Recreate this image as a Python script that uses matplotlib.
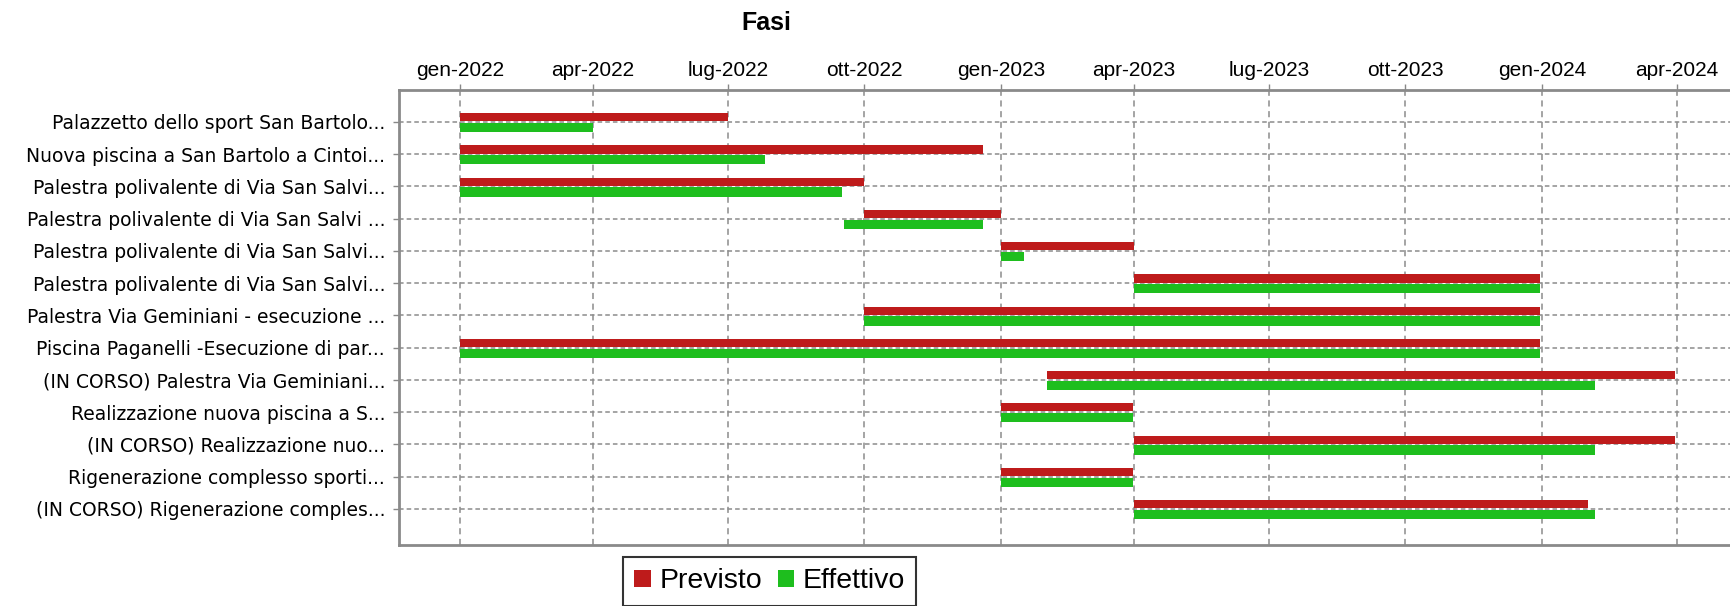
import matplotlib
matplotlib.use("Agg")
import matplotlib.pyplot as plt
import matplotlib.dates as mdates
from matplotlib.patches import Patch
import numpy as np
import pandas as pd

# ---------------- data ----------------
categories = [
    "Palazzetto dello sport San Bartolo...",
    "Nuova piscina a San Bartolo a Cintoi...",
    "Palestra polivalente di Via San Salvi...",
    "Palestra polivalente di Via San Salvi ...",
    "Palestra polivalente di Via San Salvi...",
    "Palestra polivalente di Via San Salvi...",
    "Palestra Via Geminiani - esecuzione ...",
    "Piscina Paganelli -Esecuzione di par...",
    "(IN CORSO) Palestra Via Geminiani...",
    "Realizzazione nuova piscina a S...",
    "(IN CORSO) Realizzazione nuo...",
    "Rigenerazione complesso sporti...",
    "(IN CORSO) Rigenerazione comples...",
]

previsto_start = ["2022-01-01", "2022-01-01", "2022-01-01", "2022-10-01", "2023-01-01",
                  "2023-04-01", "2022-10-01", "2022-01-01", "2023-02-01", "2023-01-01",
                  "2023-04-01", "2023-01-01", "2023-04-01"]
previsto_end = ["2022-07-01", "2022-12-20", "2022-10-01", "2023-01-01", "2023-04-01",
                "2023-12-31", "2023-12-31", "2023-12-31", "2024-03-31", "2023-03-31",
                "2024-03-31", "2023-03-31", "2024-02-01"]

effettivo_start = ["2022-01-01", "2022-01-01", "2022-01-01", "2022-09-17", "2023-01-01",
                   "2023-04-01", "2022-10-01", "2022-01-01", "2023-02-01", "2023-01-01",
                   "2023-04-01", "2023-01-01", "2023-04-01"]
effettivo_end = ["2022-04-01", "2022-07-26", "2022-09-16", "2022-12-20", "2023-01-17",
                 "2023-12-31", "2023-12-31", "2023-12-31", "2024-02-06", "2023-03-31",
                 "2024-02-06", "2023-03-31", "2024-02-06"]

tick_dates = ["2022-01-01", "2022-04-01", "2022-07-01", "2022-10-01", "2023-01-01",
              "2023-04-01", "2023-07-01", "2023-10-01", "2024-01-01", "2024-04-01"]
tick_labels = ["gen-2022", "apr-2022", "lug-2022", "ott-2022", "gen-2023",
               "apr-2023", "lug-2023", "ott-2023", "gen-2024", "apr-2024"]

series_names = ["Previsto", "Effettivo"]
series_colors = ["#BE1B1B", "#1EBE1E"]

# ---------------- plot ----------------
W, H = 1730, 606
fig = plt.figure(figsize=(W / 100, H / 100), dpi=100)
ax = fig.add_axes([399 / W, (H - 545) / H, (W - 399) / W, (545 - 90) / H])

y = np.arange(len(categories))

def to_num(lst):
    return mdates.date2num(pd.to_datetime(lst))

ps, pe = to_num(previsto_start), to_num(previsto_end)
es, ee = to_num(effettivo_start), to_num(effettivo_end)

ax.barh(y - 0.145, pe - ps, left=ps, height=0.25, color=series_colors[0], zorder=3)
ax.barh(y + 0.175, ee - es, left=es, height=0.29, color=series_colors[1], zorder=3)

ax.set_xlim(mdates.date2num(pd.Timestamp("2021-11-21")),
            mdates.date2num(pd.Timestamp("2024-05-07")))
ax.set_ylim(len(categories) - 1 + 1.12, -0.99)

ax.set_yticks(y)
ax.set_yticklabels(categories, fontsize=13.5, family="DejaVu Sans")
ax.set_xticks(to_num(tick_dates))
ax.set_xticklabels(tick_labels, fontsize=15, family="Liberation Sans")
ax.xaxis.tick_top()

ax.tick_params(axis="y", direction="out", length=4, width=1, color="#888888", pad=6)
ax.tick_params(axis="x", direction="out", length=4, width=1, color="#888888", pad=3)

ax.grid(axis="x", color="#8c8c8c", linestyle=(0, (4, 3)), linewidth=1.1, zorder=0)
ax.grid(axis="y", color="#8c8c8c", linestyle=(0, (3, 2)), linewidth=1.1, zorder=0)
ax.set_axisbelow(True)

for side in ["left", "top", "bottom"]:
    ax.spines[side].set_color("#8a8a8a")
    ax.spines[side].set_linewidth(2)
ax.spines["right"].set_visible(False)

fig.text(766 / W, 1 - 23 / H, "Fasi", ha="center", va="center",
         fontsize=18, fontweight="bold", family="Liberation Sans")

handles = [Patch(facecolor=c, edgecolor="none") for c in series_colors]
leg = fig.legend(handles, series_names, loc="upper left",
                 bbox_to_anchor=(623 / W, 1 - 557 / H),
                 ncol=2, frameon=True, fancybox=False,
                 prop={"family": "Liberation Sans", "size": 20.5},
                 handlelength=0.57, handleheight=0.57, handletextpad=0.3,
                 columnspacing=0.55, borderpad=0.4, borderaxespad=0)
leg.get_frame().set_edgecolor("#000000")
leg.get_frame().set_linewidth(1.5)

fig.savefig("out.png", dpi=100)
